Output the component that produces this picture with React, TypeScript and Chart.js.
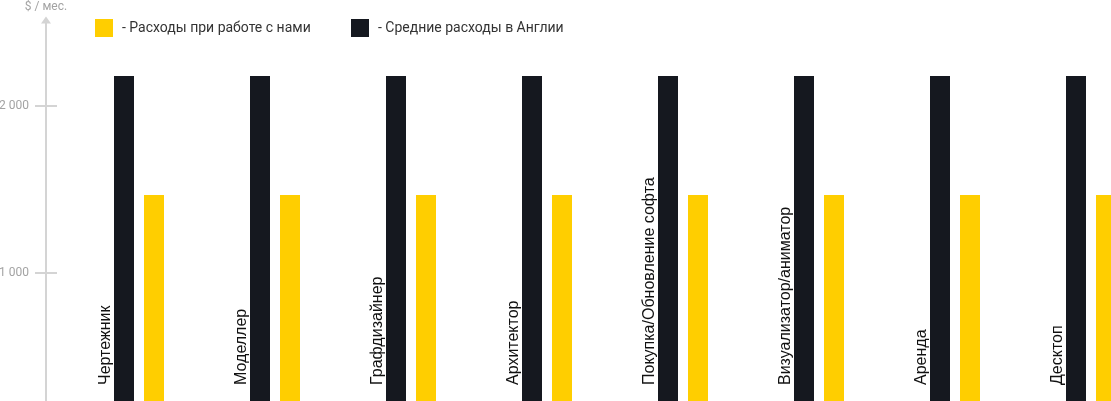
import React, { useEffect, useRef } from "react";
import { Chart, registerables } from "chart.js";

Chart.register(...registerables);

const categories = [
  "Чертежник",
  "Моделлер",
  "Графдизайнер",
  "Архитектор",
  "Покупка/Обновление софта",
  "Визуализатор/аниматор",
  "Аренда",
  "Десктоп",
];
const englandCosts = [2180, 2180, 2180, 2180, 2180, 2180, 2180, 2180];
const ourCosts = [1467, 1467, 1467, 1467, 1467, 1467, 1467, 1467];
const yTicks = [1000, 2000];
const tickLabels = ["1 000", "2 000"];
const seriesNames = ["- Средние расходы в Англии", "- Расходы при работе с нами"];
const axisTitle = "$ / мес.";

const DARK = "#15181f";
const YELLOW = "#ffce00";
const AXIS = "#d4d4d4";
const TICK_TEXT = "#a3a3a3";

const Y_MIN = 233.5;
const Y_MAX = 2500;

export default function App() {
  const ref = useRef<HTMLCanvasElement | null>(null);

  useEffect(() => {
    document.body.style.margin = "0";
    const canvas = ref.current;
    if (!canvas) return;

    const overlay = {
      id: "overlay",
      afterDraw(chart: any) {
        const ctx = chart.ctx as CanvasRenderingContext2D;
        const xs = chart.scales.x;
        const ys = chart.scales.y;
        const area = chart.chartArea;
        const axisX = 46;
        ctx.save();
        // axis line
        ctx.strokeStyle = AXIS;
        ctx.lineWidth = 2;
        ctx.beginPath();
        ctx.moveTo(axisX, area.top);
        ctx.lineTo(axisX, chart.height);
        ctx.stroke();
        // arrow
        ctx.fillStyle = AXIS;
        ctx.beginPath();
        ctx.moveTo(axisX, area.top - 6);
        ctx.lineTo(axisX - 5, area.top + 1);
        ctx.lineTo(axisX + 5, area.top + 1);
        ctx.closePath();
        ctx.fill();
        // title
        ctx.fillStyle = TICK_TEXT;
        ctx.font = "12px Roboto";
        ctx.textAlign = "center";
        ctx.textBaseline = "middle";
        ctx.fillText(axisTitle, axisX, 7);
        // ticks
        yTicks.forEach((v, i) => {
          const y = Math.round(ys.getPixelForValue(v));
          ctx.strokeStyle = AXIS;
          ctx.lineWidth = 2;
          ctx.beginPath();
          ctx.moveTo(35, y);
          ctx.lineTo(57, y);
          ctx.stroke();
          ctx.fillStyle = TICK_TEXT;
          ctx.font = "12px Roboto";
          ctx.textAlign = "right";
          ctx.textBaseline = "middle";
          ctx.fillText(tickLabels[i], 29, y);
        });
        // legend
        const legendItems = [
          { color: YELLOW, text: seriesNames[1], x: 95 },
          { color: DARK, text: seriesNames[0], x: 351 },
        ];
        legendItems.forEach((it) => {
          ctx.fillStyle = it.color;
          ctx.fillRect(it.x, 19, 18, 18);
          ctx.fillStyle = "#333333";
          ctx.font = "14px Roboto";
          ctx.textAlign = "left";
          ctx.textBaseline = "middle";
          ctx.fillText(it.text, it.x + 27, 28);
        });
        // category labels
        ctx.fillStyle = "#111111";
        ctx.font = "16px 'Liberation Sans'";
        ctx.textAlign = "left";
        ctx.textBaseline = "alphabetic";
        categories.forEach((c, i) => {
          const cx = xs.getPixelForValue(i);
          ctx.save();
          ctx.translate(cx - 25 - 4, chart.height - 16);
          ctx.rotate(-Math.PI / 2);
          ctx.fillText(c, 0, 0);
          ctx.restore();
        });
        ctx.restore();
      },
    };

    const chart = new Chart(canvas, {
      type: "bar",
      data: {
        labels: categories,
        datasets: [
          {
            label: seriesNames[0],
            data: englandCosts,
            backgroundColor: DARK,
            categoryPercentage: 60 / 136,
            barPercentage: 2 / 3,
          },
          {
            label: seriesNames[1],
            data: ourCosts,
            backgroundColor: YELLOW,
            categoryPercentage: 60 / 136,
            barPercentage: 2 / 3,
          },
        ],
      },
      options: {
        responsive: false,
        animation: false,
        layout: { padding: { left: 71, right: 0, top: 22.5, bottom: 0 } },
        plugins: { legend: { display: false }, tooltip: { enabled: false } },
        scales: {
          x: { display: false, offset: true, grid: { display: false } },
          y: { display: false, min: Y_MIN, max: Y_MAX },
        },
      },
      plugins: [overlay],
    });
    return () => chart.destroy();
  }, []);

  return (
    <div style={{ width: 1111, height: 401, overflow: "hidden", position: "relative" }}>
      <canvas ref={ref} width={1159} height={401} style={{ display: "block" }} />
    </div>
  );
}
